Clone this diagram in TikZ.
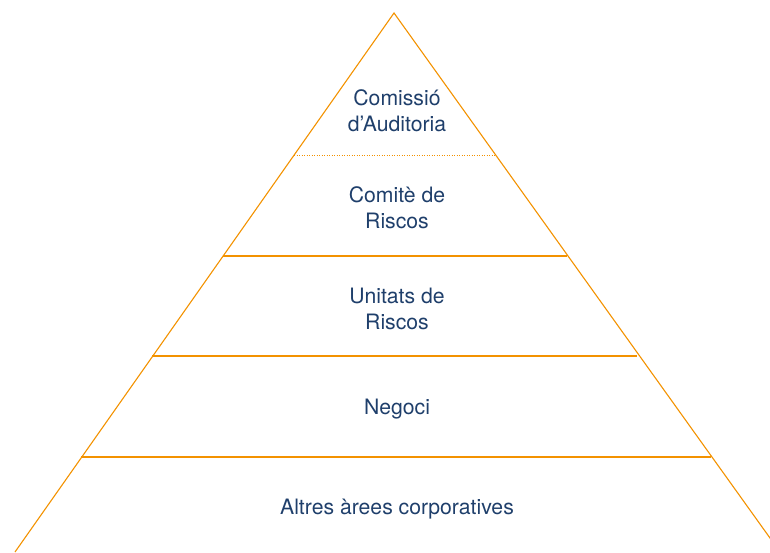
\documentclass[tikz,border=0pt]{standalone}
\usepackage{fontspec}
\setmainfont{TeX Gyre Heros}
\definecolor{pyrorange}{HTML}{F39200}
\definecolor{txtblue}{HTML}{1F3F6B}
\begin{document}
\begin{tikzpicture}[x=1pt,y=-1pt,
  edge/.style={draw=pyrorange,line width=1.1pt},
  level/.style={font=\fontsize{21.2}{26}\selectfont,text=txtblue,align=center,inner sep=0pt}]
\useasboundingbox (0,0) rectangle (770,552);
\coordinate (apex) at (394,13);
\coordinate (bl) at (15,552);
\coordinate (br) at (780,552);
\draw[edge] (bl) -- (apex) -- (br);
\coordinate (d1l) at (294,155.5); \coordinate (d1r) at (495,155.5);
\coordinate (l2l) at (223,256); \coordinate (l2r) at (567,256);
\coordinate (l3l) at (152,356); \coordinate (l3r) at (637,356);
\coordinate (l4l) at (81,457); \coordinate (l4r) at (711,457);
\draw[draw=pyrorange,line width=1.2pt,dash pattern=on 1.2pt off 1.3pt] (d1l) -- (d1r);
\draw[edge] (l2l) -- (l2r);
\draw[edge,line width=1.8pt] (l3l) -- (l3r);
\draw[edge] (l4l) -- (l4r);
\node[level] (t1) at (397,111) {Comissió\\d’Auditoria};
\node[level] (t2) at (397,208) {Comitè de\\Riscos};
\node[level] (t3) at (397,309) {Unitats de\\Riscos};
\node[level] (t4) at (397,409) {Negoci};
\node[level] (t5) at (397,509) {Altres àrees corporatives};
\end{tikzpicture}
\end{document}
